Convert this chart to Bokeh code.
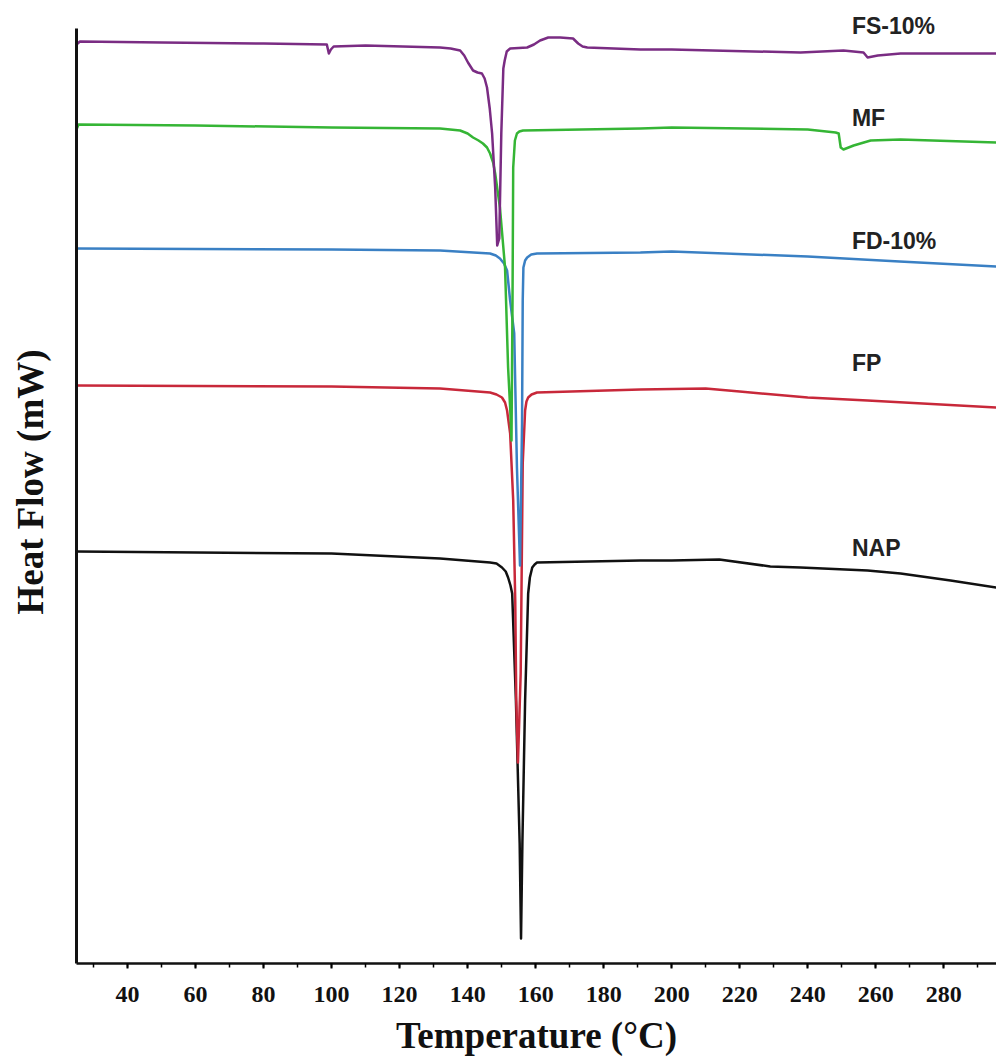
from bokeh.plotting import figure
from bokeh.models import Range1d, SingleIntervalTicker, FixedTicker, Label
from bokeh.embed import file_html
from bokeh.resources import INLINE

# Temperature (°C) and heat flow (arbitrary mW offset)
fs_T = [25.0, 26.0, 50, 80, 98.6, 99.2, 99.8, 100.6, 110, 131.9, 135.0, 137.8, 139.0, 140.1, 141.6,
        142.9, 144.2, 145.0, 145.7, 146.5, 147.2, 148.1, 148.7, 149.3, 149.9, 150.5, 150.9, 151.5,
        152.5, 157.5, 159.5, 161.3, 163.7, 167.2, 171.0, 172.5, 173.8, 175.2, 190.8, 200, 237.9,
        250.5, 256.4, 257.6, 260.6, 267.3, 295.5]
fs_H = [9.19, 9.22, 9.21, 9.20, 9.19, 9.10, 9.14, 9.17, 9.18, 9.16, 9.15, 9.13, 9.08, 9.01, 8.93,
        8.91, 8.90, 8.85, 8.76, 8.55, 8.30, 7.76, 7.18, 7.25, 8.30, 8.95, 9.03, 9.12,
        9.15, 9.16, 9.19, 9.23, 9.26, 9.26, 9.25, 9.20, 9.17, 9.16, 9.14, 9.14, 9.11,
        9.13, 9.11, 9.06, 9.08, 9.10, 9.10]

mf_T = [25.0, 25.6, 60, 100, 131.9, 137.8, 140.0, 141.6, 143.2, 144.5, 145.7, 146.6, 147.5, 148.1,
        149.5, 151.0, 151.9, 152.5, 152.9, 153.2, 153.4, 153.9, 154.5, 155.2, 156.3, 190.8, 200,
        240, 248.2, 249.1, 249.7, 250.5, 253.5, 258.5, 267.3, 295.5]
mf_H = [8.34, 8.39, 8.38, 8.36, 8.35, 8.33, 8.30, 8.26, 8.23, 8.20, 8.16, 8.10, 8.01, 7.90,
        7.56, 6.96, 5.96, 5.56, 5.23, 6.63, 7.96, 8.23, 8.30, 8.32, 8.33, 8.35, 8.36,
        8.34, 8.31, 8.30, 8.16, 8.14, 8.18, 8.23, 8.24, 8.21]

fd_T = [25, 100, 131.9, 146.6, 148.3, 149.5, 150.7, 151.6, 152.5, 153.7, 154.5, 155.4, 156.0,
        156.2, 156.4, 156.9, 157.5, 158.7, 160.4, 190.8, 200, 240, 267, 295.5]
fd_H = [7.15, 7.14, 7.13, 7.10, 7.08, 7.05, 7.00, 6.93, 6.63, 6.30, 4.96, 3.98, 5.40,
        6.63, 6.96, 7.03, 7.06, 7.09, 7.10, 7.11, 7.12, 7.07, 7.02, 6.97]

fp_T = [25, 100, 131.9, 146.6, 148.5, 150.1, 151.0, 151.6, 152.5, 153.4, 154.0, 154.3, 154.8,
        155.6, 156.2, 156.9, 157.3, 157.8, 158.8, 160.4, 190.8, 210, 220, 240, 257.6, 295.5]
fp_H = [5.78, 5.77, 5.75, 5.71, 5.69, 5.66, 5.61, 5.53, 5.30, 4.63, 3.63, 2.63, 2.01,
        2.90, 5.00, 5.53, 5.62, 5.66, 5.69, 5.71, 5.74, 5.75, 5.72, 5.66, 5.63, 5.56]

nap_T = [25, 100, 131.9, 146.6, 148.5, 150.1, 151.2, 151.9, 152.6, 153.1, 154.2, 155.3, 155.7,
         156.1, 156.9, 157.8, 158.3, 159.0, 159.7, 160.4, 190.8, 200, 214, 229, 237.9, 257.6,
         267.3, 282.0, 295.5]
nap_H = [4.12, 4.10, 4.05, 4.01, 4.00, 3.96, 3.92, 3.86, 3.78, 3.70, 2.63, 1.20, 0.25,
         1.20, 2.63, 3.70, 3.86, 3.96, 3.99, 4.01, 4.03, 4.03, 4.04, 3.97, 3.96, 3.93,
         3.90, 3.83, 3.76]

names = ["FS-10%", "MF", "FD-10%", "FP", "NAP"]
colors = ["#7a2c83", "#35b535", "#3a80c4", "#c8283a", "#111111"]
label_y = [9.38, 8.46, 7.23, 6.01, 4.16]
label_x = 253.0

p = figure(width=996, height=1064, x_range=Range1d(25, 295.5), y_range=Range1d(0, 9.63),
           output_backend="svg", toolbar_location=None,
           min_border_left=76, min_border_right=0, min_border_top=0, min_border_bottom=101)
p.outline_line_color = None
p.xgrid.visible = False
p.ygrid.visible = False
p.background_fill_color = "white"
p.border_fill_color = "white"

series = [(fs_T, fs_H), (mf_T, mf_H), (fd_T, fd_H), (fp_T, fp_H), (nap_T, nap_H)]
for i in [4, 3, 2, 1, 0]:
    T, H = series[i]
    p.line(T, H, line_color=colors[i], line_width=2.5, line_join="round")

for n, ly in zip(names, label_y):
    p.add_layout(Label(x=label_x, y=ly, text=n, text_font="Liberation Sans", text_font_style="bold",
                       text_font_size="23px", text_color="#222222", text_baseline="middle",
                       text_align="left"))

xa = p.xaxis[0]
xa.ticker = SingleIntervalTicker(interval=20, num_minor_ticks=2)
xa.axis_label = "Temperature (°C)"
xa.axis_label_text_font = "Liberation Serif"
xa.axis_label_text_font_style = "bold"
xa.axis_label_text_font_size = "37px"
xa.axis_label_text_color = "#111111"
xa.axis_label_standoff = 10
xa.major_label_text_font = "Liberation Serif"
xa.major_label_text_font_style = "bold"
xa.major_label_text_font_size = "24px"
xa.major_label_text_color = "#111111"
xa.major_label_standoff = 18
xa.axis_line_width = 2.5
xa.axis_line_color = "#111111"
xa.major_tick_in = 0
xa.major_tick_out = 5
xa.major_tick_line_width = 2
xa.minor_tick_in = 0
xa.minor_tick_out = 4
xa.minor_tick_line_width = 1.5

ya = p.yaxis[0]
ya.ticker = FixedTicker(ticks=[])
ya.bounds = (0, 9.35)
ya.axis_label = "Heat Flow (mW)"
ya.axis_label_text_font = "Liberation Serif"
ya.axis_label_text_font_style = "bold"
ya.axis_label_text_font_size = "37px"
ya.axis_label_text_color = "#111111"
ya.axis_label_standoff = 26
ya.axis_line_width = 3
ya.axis_line_color = "#111111"
ya.major_tick_in = 0
ya.major_tick_out = 0
ya.minor_tick_in = 0
ya.minor_tick_out = 0

open("out.html", "w").write(file_html(p, INLINE))
